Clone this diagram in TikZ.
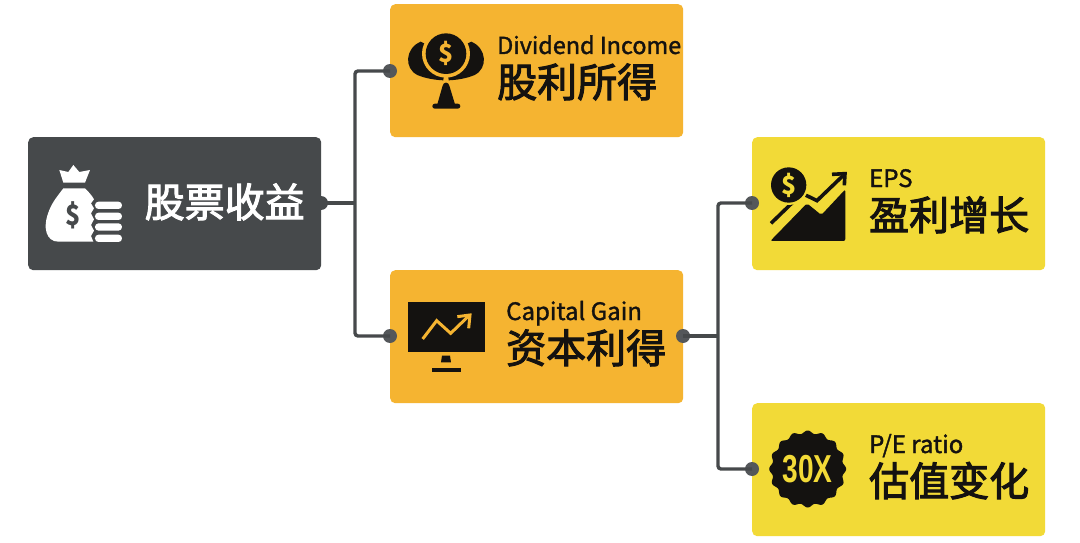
\documentclass[tikz,border=0pt]{standalone}
\usepackage{fontspec}
\newfontfamily\cjk{Noto Sans CJK SC}
\newfontfamily\cjkbig[FakeBold=2.6]{Noto Sans CJK SC}
\newfontfamily\cjksmall[FakeBold=1.4]{Noto Sans CJK SC}
\newfontfamily\condf{Liberation Sans}
\definecolor{darkbox}{HTML}{46494B}
\definecolor{orangebox}{HTML}{F5B431}
\definecolor{yellowbox}{HTML}{F2DA37}
\definecolor{inkc}{HTML}{141210}
\definecolor{dotc}{HTML}{54575A}
\tikzset{
  cardbox/.style={minimum width=293pt,minimum height=133pt,rounded corners=5pt,inner sep=0pt,draw=none,anchor=north west},
  dotnode/.style={circle,fill=dotc,minimum size=14pt,inner sep=0pt},
  link/.style={draw=darkbox,line width=3.4pt,rounded corners=3pt},
  bigtxt/.style={anchor=base west,inner sep=0pt,font=\cjkbig\fontsize{40pt}{41pt}\selectfont,text=inkc},
  smalltxt/.style={anchor=base west,inner sep=0pt,font=\cjksmall\fontsize{24pt}{25pt}\selectfont,text=inkc},
  coinsign/.style={inner sep=0pt,font=\cjk\bfseries\fontsize{25pt}{25pt}\selectfont},
}
\begin{document}
\begin{tikzpicture}[x=1pt,y=-1pt]
\useasboundingbox (0,0) rectangle (1080,543);
\fill[white] (0,0) rectangle (1080,543);
% cards
\node[cardbox,fill=darkbox] (root) at (28,137) {};
\node[cardbox,fill=orangebox] (div) at (390,4) {};
\node[cardbox,fill=orangebox] (cap) at (390,270) {};
\node[cardbox,fill=yellowbox] (eps) at (752,137) {};
\node[cardbox,fill=yellowbox] (pe) at (752,403) {};
% connectors
\coordinate (j1) at (355,203);
\coordinate (j2) at (718,336);
\node[dotnode,fill=darkbox] (d0) at (321,203) {};
\node[dotnode] (d1) at (390,71) {};
\node[dotnode] (d2) at (390,336) {};
\node[dotnode] (d3) at (683,336) {};
\node[dotnode] (d4) at (752,203) {};
\node[dotnode] (d5) at (752,469) {};
\draw[link] (d1.center) -| (j1) |- (d2.center);
\draw[link,rounded corners=0pt] (d0.center) -- (j1);
\draw[link] (d4.center) -| (j2) |- (d5.center);
\draw[link,rounded corners=0pt] (d3.center) -- (j2);
% texts
\node[bigtxt,text=white] (t0) at (144.5,217) {股票收益};
\node[smalltxt,font=\cjksmall\fontsize{23.4pt}{25pt}\selectfont] (t1a) at (497,54) {Dividend Income};
\node[bigtxt] (t1b) at (497,97) {股利所得};
\node[smalltxt] (t2a) at (506,320) {Capital Gain};
\node[bigtxt] (t2b) at (506,363) {资本利得};
\node[smalltxt] (t3a) at (869,187) {EPS};
\node[bigtxt] (t3b) at (869,230) {盈利增长};
\node[smalltxt] (t4a) at (869,453) {P/E ratio};
\node[bigtxt] (t4b) at (869,496) {估值变化};
% money bag
\begin{scope}[shift={(40,160)},scale=0.3333]
\fill[white] (58,30) -- (85,36) -- (100,15) -- (118,36) -- (150,30) -- (135,68) -- (70,68) -- cycle;
\fill[white] (70,85) -- (135,85) .. controls (145,95) and (155,105) .. (162,118)
  -- (153,130) -- (162,145) -- (153,160) -- (162,178) -- (153,195) -- (162,212) -- (153,228) -- (160,245)
  -- (55,245) .. controls (20,245) and (5,205) .. (28,150) .. controls (38,125) and (55,105) .. (70,85) -- cycle;
\foreach \yy in {136,169,201,235} \fill[white,rounded corners=3.5pt] (165,\yy-11) rectangle (246,\yy+11);
\end{scope}
\node[coinsign,text=darkbox,font=\cjk\bfseries\fontsize{28pt}{28pt}\selectfont,xscale=0.9,transform shape] (bagd) at (73,215) {\$};
% dividend tree
\begin{scope}[shift={(400,25)},scale=0.3333]
\fill[inkc] (62,50) .. controls (15,70) and (12,130) .. (52,150) .. controls (75,160) and (105,165) .. (130,166) -- (138,86) -- cycle;
\fill[inkc] (214,50) .. controls (261,70) and (264,130) .. (224,150) .. controls (201,160) and (171,165) .. (146,166) -- (138,86) -- cycle;
\fill[orangebox] (138,86) circle (72);
\fill[inkc] (138,86) circle (61);
\fill[inkc] (128,182) .. controls (130,170) and (146,170) .. (148,182) -- (165,238) -- (112,238) -- cycle;
\fill[inkc,rounded corners=2.5pt] (97,236) rectangle (181,251);
\end{scope}
\node[coinsign,text=orangebox] (coin1) at (446,53) {\$};
% monitor
\begin{scope}[shift={(380,265)},scale=0.3333]
\fill[inkc] (83,110) rectangle (314,260);
\draw[orangebox,line width=3pt] (128,222) -- (170,167) -- (212,205) -- (266,153);
\draw[orangebox,line width=3pt] (232,155) -- (270,150) -- (266,190);
\fill[inkc] (186,272) -- (210,272) -- (213,292) -- (183,292) -- cycle;
\fill[inkc] (155,308) rectangle (243,320);
\end{scope}
% growth chart
\begin{scope}[shift={(762,160)},scale=0.3333]
\fill[inkc,rounded corners=2pt] (25,243) -- (135,130) -- (178,165) -- (250,88) -- (250,243) -- cycle;
\draw[inkc,line width=3.6pt] (27,190) -- (120,100) -- (165,122) -- (243,47);
\draw[inkc,line width=3.6pt] (210,43) -- (249,41) -- (247,76);
\fill[yellowbox] (80,75) circle (60);
\fill[inkc] (80,75) circle (53);
\end{scope}
\node[coinsign,text=yellowbox] (coin2) at (789,185) {\$};
% badge
\fill[inkc] plot[domain=0:360,samples=193,smooth] ({807.7+(37+1.5*cos(16*\x))*cos(\x)},{469+(37+1.5*cos(16*\x))*sin(\x)}) -- cycle;
\node[inner sep=0pt,text=yellowbox,font=\condf\bfseries\fontsize{39pt}{40pt}\selectfont,xscale=0.72,transform shape] (badge) at (807.7,469) {30X};
\end{tikzpicture}
\end{document}
